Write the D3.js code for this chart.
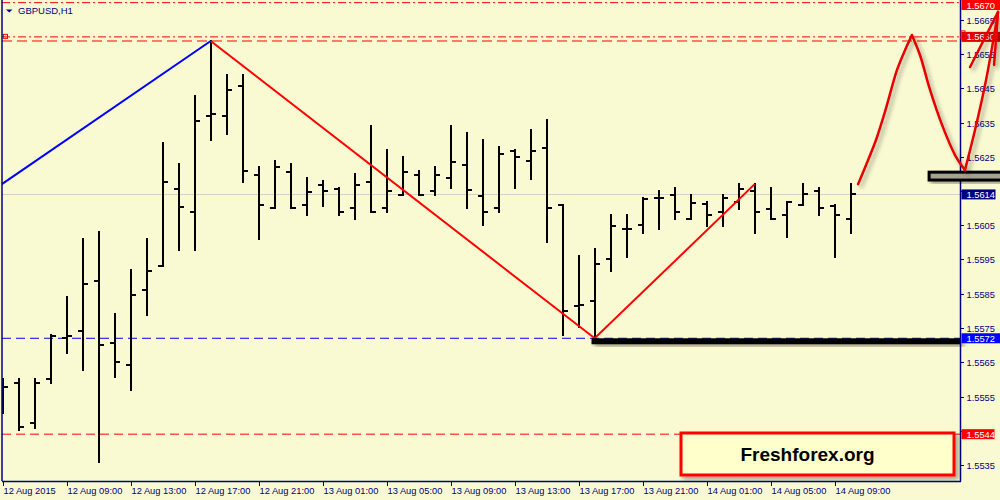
<!DOCTYPE html>
<html lang="en">
<head>
<meta charset="UTF-8" />
<title>GBPUSD,H1</title>
<script src="https://cdnjs.cloudflare.com/ajax/libs/d3/7.8.5/d3.min.js"></script>
<style>
  body { margin: 0; background: #fafad2; }
  svg { display: block; }
  text { font-family: "Liberation Sans", Arial, sans-serif; }
</style>
</head>
<body>
<div id="chart"></div>
<script>
// H1 bars, 12 Aug 2015 05:00 .. 14 Aug 10:00
const opens = [1.55587, 1.55589, 1.55473, 1.55601, 1.55721, 1.55741, 1.55887, 1.55706, 1.55642, 1.55861,
  1.55931, 1.56156, 1.56089, 1.56369, 1.56369, 1.56457, 1.56197, 1.56100, 1.56205, 1.56109,
  1.56168, 1.56156, 1.56100, 1.56176, 1.56100, 1.56138, 1.56197, 1.56150, 1.56188, 1.56226,
  1.56135, 1.56100, 1.56267, 1.56238, 1.56276, 1.56109, 1.55814, 1.55829, 1.55951, 1.56039,
  1.56051, 1.56130, 1.56138, 1.56068, 1.56112, 1.56089, 1.56118, 1.56150, 1.56097, 1.56080,
  1.56109, 1.56150, 1.56106, 1.56068];
const highs = [1.55601, 1.55601, 1.55601, 1.55730, 1.55840, 1.56010, 1.56030, 1.55791, 1.55919, 1.56010,
  1.56290, 1.56229, 1.56427, 1.56588, 1.56489, 1.56489, 1.56220, 1.56238, 1.56229, 1.56188,
  1.56179, 1.56159, 1.56200, 1.56340, 1.56270, 1.56249, 1.56208, 1.56220, 1.56340, 1.56319,
  1.56299, 1.56279, 1.56270, 1.56328, 1.56357, 1.56109, 1.55960, 1.55981, 1.56080, 1.56080,
  1.56130, 1.56150, 1.56159, 1.56138, 1.56118, 1.56138, 1.56170, 1.56170, 1.56159, 1.56118,
  1.56170, 1.56159, 1.56109, 1.56170];
const lows = [1.55502, 1.55452, 1.55458, 1.55589, 1.55677, 1.55627, 1.55359, 1.55607, 1.55569, 1.55788,
  1.55931, 1.55978, 1.55978, 1.56299, 1.56316, 1.56176, 1.56010, 1.56100, 1.56100, 1.56080,
  1.56106, 1.56080, 1.56068, 1.56089, 1.56089, 1.56138, 1.56138, 1.56138, 1.56159, 1.56100,
  1.56051, 1.56089, 1.56159, 1.56185, 1.56001, 1.55730, 1.55753, 1.55720, 1.55916, 1.55957,
  1.56027, 1.56039, 1.56068, 1.56068, 1.56048, 1.56048, 1.56097, 1.56027, 1.56068, 1.56016,
  1.56109, 1.56080, 1.55957, 1.56027];
const closes = [1.55578, 1.55461, 1.55589, 1.55727, 1.55727, 1.55878, 1.55700, 1.55651, 1.55846, 1.55916,
  1.56176, 1.56103, 1.56354, 1.56375, 1.56445, 1.56208, 1.56109, 1.56220, 1.56100, 1.56147,
  1.56150, 1.56089, 1.56168, 1.56089, 1.56150, 1.56205, 1.56138, 1.56197, 1.56235, 1.56153,
  1.56089, 1.56258, 1.56249, 1.56267, 1.56100, 1.55800, 1.55817, 1.55937, 1.56048, 1.56039,
  1.56127, 1.56130, 1.56089, 1.56115, 1.56080, 1.56130, 1.56156, 1.56089, 1.56068, 1.56118,
  1.56141, 1.56100, 1.56080, 1.56140];

const timeTickBars = [0, 4, 8, 12, 16, 20, 24, 28, 32, 36, 40, 44, 48, 52];
const timeTickLabels = ["12 Aug 2015", "12 Aug 09:00", "12 Aug 13:00", "12 Aug 17:00", "12 Aug 21:00",
  "13 Aug 01:00", "13 Aug 05:00", "13 Aug 09:00", "13 Aug 13:00", "13 Aug 17:00", "13 Aug 21:00",
  "14 Aug 01:00", "14 Aug 05:00", "14 Aug 09:00"];
const priceTicks = [1.5535, 1.5545, 1.5555, 1.5565, 1.5575, 1.5585, 1.5595, 1.5605,
  1.5615, 1.5625, 1.5635, 1.5645, 1.5655, 1.5665];

// horizontal levels
const levelPrices = [1.5670, 1.5660, 1.56588, 1.5572, 1.5544];
const levelLabels = ["1.5670", "1.5660", "", "1.5572", "1.5544"];
const bidPrice = 1.5614;

// drawn objects, [bar index, price]
const zigzagUp = [[-0.05, 1.56170], [13, 1.56588]];
const zigzagDown = [[13, 1.56588], [37, 1.55720], [47, 1.56170]];
const supportStart = [36.8, 1.55720];
const targetZone = [57.9, 1.56205, 1.56182];
const arrowRise = [[53.46, 1.56170], [53.96, 1.56226], [54.58, 1.56299], [55.21, 1.56392],
  [55.89, 1.56503], [56.46, 1.56568], [56.83, 1.56605]];
const arrowFall = [[56.83, 1.56605], [57.33, 1.56547], [57.96, 1.56445], [58.71, 1.56343],
  [59.52, 1.56255], [60.14, 1.56211]];
const arrowRise2 = [[60.14, 1.56211], [60.77, 1.56328], [61.46, 1.56474], [62.21, 1.56673]];
const arrowHead = [[60.46, 1.56512], [62.21, 1.56673], [61.96, 1.56518]];

const width = 1000;
const height = 500;
const plot = { left: 2, right: 960, top: 0, bottom: 481 };
const navy = "#000080";

const svg = d3.select("#chart").append("svg")
  .attr("width", width)
  .attr("height", height);

const x = d3.scaleLinear().domain([0, 53]).range([2.7, 850.7]);
const y = d3.scaleLinear().domain([1.5575, 1.5655]).range([328, 54]);

const defs = svg.append("defs");
defs.append("clipPath").attr("id", "plotClip")
  .append("rect")
  .attr("x", plot.left).attr("y", plot.top)
  .attr("width", plot.right - plot.left).attr("height", plot.bottom - plot.top);
defs.append("filter").attr("id", "shadow")
  .attr("x", "-20%").attr("y", "-20%").attr("width", "140%").attr("height", "160%")
  .append("feDropShadow")
  .attr("dx", 3).attr("dy", 3).attr("stdDeviation", 2)
  .attr("flood-color", "#000").attr("flood-opacity", 0.35);

svg.append("rect")
  .attr("width", width).attr("height", height)
  .attr("fill", "#fafad2");

const inner = svg.append("g").attr("clip-path", "url(#plotClip)");

// bid line
inner.append("line")
  .attr("x1", plot.left).attr("x2", plot.right)
  .attr("y1", Math.round(y(bidPrice)) + 0.5).attr("y2", Math.round(y(bidPrice)) + 0.5)
  .attr("stroke", "#d2d2c8").attr("stroke-width", 1);

// level lines
const levelStyle = [
  { color: "#ff0000", dash: "8,3,2,3" },
  { color: "#ff0000", dash: "8,3,2,3" },
  { color: "#ff0000", dash: "10,5" },
  { color: "#0000ff", dash: "9,5" },
  { color: "#ff0000", dash: "9,5" }
];
levelPrices.forEach((p, i) => {
  inner.append("line")
    .attr("x1", plot.left).attr("x2", plot.right)
    .attr("y1", y(p)).attr("y2", y(p))
    .attr("stroke", levelStyle[i].color)
    .attr("stroke-width", 1)
    .attr("stroke-dasharray", levelStyle[i].dash);
});

// small marker at left of the 1.5660 level
inner.append("rect")
  .attr("x", 3.5).attr("y", y(1.5660) - 2.5)
  .attr("width", 4).attr("height", 4)
  .attr("fill", "none").attr("stroke", "#ff0000");

// OHLC bars
const bars = inner.append("g")
  .attr("stroke", "#000")
  .attr("stroke-width", 2)
  .attr("shape-rendering", "crispEdges");
opens.forEach((o, i) => {
  const cx = x(i);
  bars.append("line")
    .attr("x1", cx).attr("x2", cx)
    .attr("y1", y(highs[i]) - 1).attr("y2", y(lows[i]) + 1);
  bars.append("line")
    .attr("x1", cx - 5).attr("x2", cx)
    .attr("y1", y(o)).attr("y2", y(o));
  bars.append("line")
    .attr("x1", cx).attr("x2", cx + 5)
    .attr("y1", y(closes[i])).attr("y2", y(closes[i]));
});

// zigzag
const line = d3.line().x(d => x(d[0])).y(d => y(d[1]));
inner.append("path")
  .attr("d", line(zigzagUp))
  .attr("fill", "none").attr("stroke", "#0000ff").attr("stroke-width", 2);
inner.append("path")
  .attr("d", line(zigzagDown))
  .attr("fill", "none").attr("stroke", "#ff0000").attr("stroke-width", 2);

// thick support line
svg.append("rect")
  .attr("x", x(supportStart[0])).attr("y", y(supportStart[1]))
  .attr("width", plot.right + 1 - x(supportStart[0])).attr("height", 6)
  .attr("fill", "#000")
  .attr("filter", "url(#shadow)");

// axes frame
svg.append("line")
  .attr("x1", plot.left).attr("x2", plot.left)
  .attr("y1", plot.top).attr("y2", plot.bottom)
  .attr("stroke", navy).attr("stroke-width", 1.5);
svg.append("line")
  .attr("x1", plot.right + 0.5).attr("x2", plot.right + 0.5)
  .attr("y1", plot.top).attr("y2", plot.bottom + 0.5)
  .attr("stroke", navy).attr("stroke-width", 1.5);
svg.append("line")
  .attr("x1", plot.left).attr("x2", plot.right + 1)
  .attr("y1", plot.bottom + 0.5).attr("y2", plot.bottom + 0.5)
  .attr("stroke", navy).attr("stroke-width", 1.5);

// price axis; tick labels hidden under a price label are not drawn
const labelledPrices = levelPrices.filter((p, i) => levelLabels[i]).concat([bidPrice]);
const yAxis = svg.append("g");
priceTicks.forEach(p => {
  const ty = Math.round(y(p)) + 0.5;
  yAxis.append("line")
    .attr("x1", plot.right).attr("x2", plot.right + 4)
    .attr("y1", ty).attr("y2", ty)
    .attr("stroke", navy);
  const covered = labelledPrices.some(q => Math.abs(y(q) - y(p)) < 9);
  if (covered) return;
  yAxis.append("text")
    .attr("x", plot.right + 6.5).attr("y", ty + 3.5)
    .attr("font-size", "9.3px").attr("fill", navy)
    .text(d3.format(".4f")(p));
});

// time axis
const xAxis = svg.append("g");
timeTickBars.forEach((b, i) => {
  const tx = Math.round(x(b)) + 0.5;
  xAxis.append("line")
    .attr("x1", tx).attr("x2", tx)
    .attr("y1", plot.bottom).attr("y2", plot.bottom + 5)
    .attr("stroke", navy);
  xAxis.append("text")
    .attr("x", tx).attr("y", 494)
    .attr("font-size", "9.3px").attr("fill", navy)
    .text(timeTickLabels[i]);
});

// price labels on the axis
const labelFill = ["#ff0000", "#e00000", null, "#0000ff", "#ff0000"];
const labelWidth = [39, 39, 0, 39, 33];
function priceLabel(p, text, fill, w) {
  const top = Math.max(0, y(p) - 5);
  svg.append("rect")
    .attr("x", plot.right + 1.5).attr("y", top)
    .attr("width", w).attr("height", 10)
    .attr("fill", fill);
  svg.append("text")
    .attr("x", plot.right + 6.5).attr("y", top + 8.5)
    .attr("font-size", "9.3px").attr("fill", "#fff")
    .text(text);
}
levelPrices.forEach((p, i) => {
  if (levelLabels[i]) priceLabel(p, levelLabels[i], labelFill[i], labelWidth[i]);
});
svg.append("rect")
  .attr("x", plot.right + 1).attr("y", y(1.5660) - 6)
  .attr("width", 4).attr("height", 8)
  .attr("fill", "none").attr("stroke", "#ff0000");
priceLabel(bidPrice, "1.5614", navy, 34);

// target zone rectangle
svg.append("rect")
  .attr("x", x(targetZone[0])).attr("y", y(targetZone[1]))
  .attr("width", width - x(targetZone[0]) + 5)
  .attr("height", y(targetZone[2]) - y(targetZone[1]))
  .attr("fill", "#a3a38f").attr("stroke", "#000").attr("stroke-width", 3)
  .attr("filter", "url(#shadow)");

// hand drawn arrow
const curve = d3.line().x(d => x(d[0])).y(d => y(d[1])).curve(d3.curveCatmullRom);
const arrow = svg.append("g")
  .attr("fill", "none").attr("stroke", "#e60000")
  .attr("stroke-width", 2.5).attr("stroke-linecap", "round").attr("stroke-linejoin", "round")
  .attr("filter", "url(#shadow)");
[arrowRise, arrowFall, arrowRise2].forEach(seg => arrow.append("path").attr("d", curve(seg)));
arrow.append("path").attr("d", line(arrowHead));

// title
svg.append("path")
  .attr("d", "M6,9.5 L12.5,9.5 L9.25,12.5 Z")
  .attr("fill", navy);
svg.append("text")
  .attr("x", 18).attr("y", 14)
  .attr("font-size", "9.5px").attr("fill", navy)
  .text("GBPUSD,H1");

// logo box
const logo = { x: 681, y: 433, w: 273, h: 42 };
svg.append("rect")
  .attr("x", logo.x).attr("y", logo.y)
  .attr("width", logo.w).attr("height", logo.h)
  .attr("fill", "#ffffcc").attr("stroke", "#ff0000").attr("stroke-width", 3)
  .attr("filter", "url(#shadow)");
svg.append("text")
  .attr("x", logo.x + logo.w / 2 - 10).attr("y", logo.y + 28)
  .attr("text-anchor", "middle")
  .attr("font-size", "19px").attr("font-weight", "bold").attr("fill", "#000")
  .text("Freshforex.org");
</script>
</body>
</html>
